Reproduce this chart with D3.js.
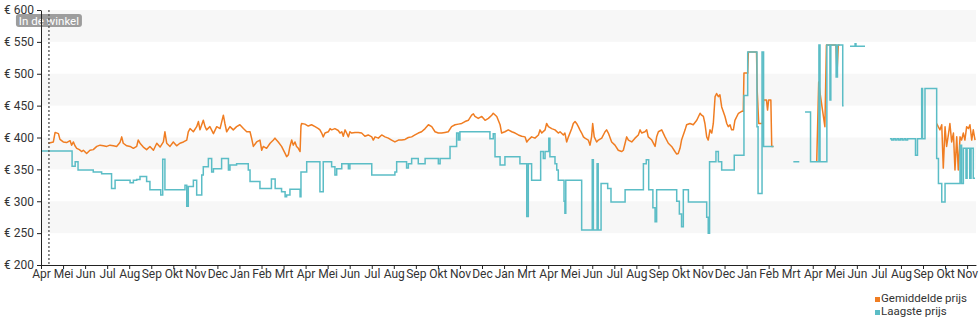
<!DOCTYPE html>
<html><head><meta charset="utf-8">
<script src="https://cdn.jsdelivr.net/npm/d3@7"></script>
<style>body{margin:0;background:#fff;} svg{display:block;font-family:Roboto, "Noto Sans", sans-serif;}</style>
</head><body><svg id="c" width="980" height="325"></svg>
<script>
const monthLabels = ["Apr","Mei","Jun","Jul","Aug","Sep","Okt","Nov","Dec","Jan","Feb","Mrt","Apr","Mei","Jun","Jul","Aug","Sep","Okt","Nov","Dec","Jan","Mrt","Apr","Mei","Jun","Jul","Aug","Sep","Okt","Nov","Dec","Jan","Feb","Mrt","Apr","Mei","Jun","Jul","Aug","Sep","Okt","Nov"];
const priceTicks = [200,250,300,350,400,450,500,550,600];
const bandRanges = [[550,600],[450,500],[350,400],[250,300]];
const seriesNames = ["Gemiddelde prijs","Laagste prijs"];
const storeMarker = {t:0.36, label:"In de winkel"};

// [month index, price]
const avgPrice = [
[0.33,391],[0.56,393],[0.64,408],[0.79,406],[0.86,397],[1.01,393],[1.16,392],[1.32,395],[1.39,388],[1.47,393],[1.54,387],[1.62,383],[1.74,381],[1.84,378],[1.92,380],[2.07,375],[2.22,380],[2.37,381],[2.53,386],[2.68,388],[2.83,387],[2.98,386],[3.13,388],[3.28,387],[3.43,386],[3.58,392],[3.66,401],[3.73,391],[3.89,387],[4.04,386],[4.19,383],[4.34,386],[4.41,396],[4.49,391],[4.64,385],[4.79,381],[4.94,386],[5.10,380],[5.25,391],[5.40,385],[5.55,393],[5.62,409],[5.70,391],[5.85,386],[6.00,393],[6.15,387],[6.30,391],[6.46,393],[6.61,396],[6.68,409],[6.76,414],[6.91,409],[7.06,417],[7.14,425],[7.21,412],[7.36,427],[7.44,417],[7.51,412],[7.66,417],[7.82,406],[7.97,417],[8.12,414],[8.27,435],[8.34,422],[8.42,409],[8.57,417],[8.72,412],[8.87,417],[9.02,420],[9.18,414],[9.33,409],[9.48,409],[9.55,399],[9.63,386],[9.78,393],[9.93,396],[10.01,380],[10.08,386],[10.23,383],[10.39,391],[10.54,396],
[10.61,399],[10.76,393],[10.91,386],[11.07,375],[11.14,370],[11.22,373],[11.29,386],[11.37,396],[11.44,388],[11.52,393],[11.59,386],[11.67,383],[11.75,378],[11.79,418],[11.82,422],[11.97,421],[12.12,418],[12.27,420],[12.43,417],[12.58,414],[12.65,412],[12.73,407],[12.80,401],[12.88,407],[13.03,409],[13.11,414],[13.18,412],[13.33,414],[13.48,411],[13.56,407],[13.64,409],[13.71,402],[13.79,412],[13.86,407],[13.94,401],[14.01,409],[14.09,407],[14.24,408],[14.39,408],[14.54,407],[14.69,402],[14.84,404],[15.00,401],[15.07,396],[15.15,401],[15.30,399],[15.45,404],[15.60,401],[15.75,399],[15.90,396],[16.05,393],[16.21,396],[16.36,396],[16.51,397],[16.66,400],[16.81,401],[16.96,404],[17.11,407],[17.26,409],[17.42,414],[17.57,420],[17.72,417],[17.87,409],[18.02,407],[18.17,407],[18.32,408],[18.47,409],[18.62,417],[18.78,420],[18.93,421],[19.08,422],[19.23,425],[19.38,427],[19.53,435],[19.61,437],[19.68,433],[19.83,430],[19.99,433],[20.14,427],[20.29,430],[20.44,435],[20.51,438],[20.67,433],[20.82,420],[20.89,407],[21.04,409],
[21.19,412],[21.35,409],[21.50,407],[21.65,404],[21.80,402],[21.95,401],[22.03,393],[22.10,396],[22.25,401],[22.40,399],[22.56,404],[22.63,412],[22.71,407],[22.86,412],[22.93,422],[23.01,417],[23.16,414],[23.31,412],[23.46,407],[23.54,409],[23.69,404],[23.76,407],[23.84,393],[23.92,401],[24.07,414],[24.14,422],[24.22,425],[24.29,422],[24.37,417],[24.44,412],[24.52,407],[24.60,401],[24.67,399],[24.82,396],[24.90,388],[24.97,401],[25.02,422],[25.09,401],[25.20,393],[25.28,396],[25.43,399],[25.58,409],[25.65,412],[25.73,407],[25.88,393],[26.03,388],[26.18,380],[26.33,378],[26.41,380],[26.49,391],[26.56,401],[26.64,396],[26.79,393],[26.94,399],[27.09,404],[27.17,412],[27.24,407],[27.39,409],[27.47,412],[27.54,401],[27.70,396],[27.85,386],[27.92,401],[28.00,409],[28.15,412],[28.30,401],[28.45,391],[28.60,386],[28.75,378],[28.83,374],[28.90,375],[28.98,383],[29.05,396],[29.21,412],[29.28,420],[29.43,422],[29.58,420],[29.74,427],[29.89,438],[29.96,435],[30.04,433],[30.11,422],[30.19,401],[30.26,396],[30.34,412],[30.42,407],[30.49,422],[30.57,464],[30.64,469],[30.72,464],[30.79,467],[30.87,448],[31.02,433],[31.10,422],[31.17,417],[31.25,420],[31.32,412],[31.40,412],[31.47,427],[31.63,438],[31.78,441],[31.85,441],
[31.88,501],[32.05,501],[32.08,534],[32.45,534],[32.48,474],[32.55,422],[32.72,422],[32.77,459],[32.90,459],[32.95,443],[33.00,459],[33.10,459],[33.14,386],[33.22,386],[33.25,null],
[35.18,362],[35.27,487],[35.33,470],[35.55,417],[35.62,545],[36.05,545],[36.10,501],[36.16,545],[36.22,545],[36.25,null],
[40.62,422],[40.69,417],[40.77,412],[40.85,420],[40.92,352],[41.00,417],[41.07,386],[41.15,404],[41.22,422],[41.30,393],[41.38,407],[41.45,349],[41.53,401],[41.60,349],[41.68,401],[41.75,396],[41.83,407],[41.90,396],[41.98,417],[42.06,414],[42.13,420],[42.21,396],[42.28,412],[42.36,396]
];

const lowPrice = [
[0,379],[1.41,355],[1.55,362],[1.68,349],[2.37,346],[2.75,343],[3.20,320],[3.36,333],[4.04,329],[4.19,333],[4.34,334],[4.49,339],[4.79,331],[4.94,318],[5.43,310],[5.52,366],[5.62,318],[6.53,325],[6.61,292],[6.68,323],[6.91,333],[7.06,310],[7.29,341],[7.36,354],[7.59,367],[7.74,346],[7.82,351],[8.19,367],[8.50,349],[8.57,357],[8.87,359],[9.40,349],[9.48,331],[9.93,320],[10.45,335],[10.62,320],[10.91,315],[11.07,307],[11.14,310],[11.29,319],[11.75,307],[11.79,346],[12.05,362],[12.65,315],[12.80,362],[13.18,354],[13.33,341],[13.41,351],[13.64,359],[13.94,351],[14.01,359],[15.00,341],[16.05,346],[16.13,362],[16.58,352],[16.66,359],[16.81,367],[17.11,359],[17.42,367],[18.02,359],[18.10,367],[18.55,386],[18.85,407],[18.93,396],[19.00,409],[20.36,398],[20.51,406],[20.59,370],[20.82,357],[21.04,370],[21.72,359],[22.03,276],[22.10,359],[22.25,333],[22.66,378],[22.78,367],[22.86,378],[23.03,399],[23.08,370],[23.31,359],[23.39,349],[23.46,333],[23.72,300],[23.76,281],[23.80,333],[24.52,255],[25.00,365],[25.05,255],[25.22,359],[25.27,255],[25.40,328],[25.70,320],[25.85,299],[26.49,318],[27.32,359],[27.45,365],[27.56,318],[27.75,290],[27.85,268],[27.92,318],[28.83,300],[28.95,280],[29.05,260],[29.13,318],[29.36,299],[30.19,275],[30.26,250],[30.32,362],[30.61,378],[30.72,362],[30.87,349],[31.44,372],[31.88,466],[32.05,534],[32.47,417],[32.52,312],[32.70,534],[32.77,386],[33.22,386],[33.25,null],
[34.12,362],[34.39,362],[34.42,null],
[34.65,440],[34.90,362],[35.28,545],[35.33,362],[35.64,545],[35.78,459],[35.82,545],[36.06,495],[36.12,545],[36.36,450],[36.40,450],[36.42,null],
[36.69,543],[36.88,543],[36.92,547],[36.96,543],[37.37,543],[37.40,null],
[38.50,398],[38.58,396],[38.66,398],[38.74,396],[38.82,398],[38.90,396],[38.98,398],[39.06,396],[39.14,398],[39.22,396],[39.30,398],[39.66,372],[39.75,398],[39.94,477],[39.98,398],[40.09,477],[40.62,367],[40.70,328],[40.85,299],[41.00,328],[41.68,388],[41.75,328],[41.83,383],[41.95,336],[42.00,383],[42.12,336],[42.18,383],[42.28,336],[42.36,336]
];

const colors = ["#f07d22","#5bbdc6"];

const svg = d3.select("#c");
const x = d3.scaleLinear().domain([0, 42.4]).range([41, 41 + 42.4 * 22.05]);
const y = d3.scaleLinear().domain([200, 600]).range([265, 10]);

// bands
svg.append("g").selectAll("rect").data(bandRanges).join("rect")
  .attr("x", x(0)).attr("width", x(42.4) - x(0))
  .attr("y", d => y(d[1])).attr("height", d => y(d[0]) - y(d[1]))
  .attr("fill", "#f7f7f7");

// store label
const lx = x(storeMarker.t);
const lbl = svg.append("g");
lbl.append("rect").attr("x", lx - 33).attr("y", 14).attr("width", 66).attr("height", 13).attr("rx", 3)
  .attr("fill", "#9d9d9d");
lbl.append("text").attr("x", lx).attr("y", 24.5).attr("text-anchor", "middle")
  .attr("fill", "#fff").attr("font-size", 11.5).text(storeMarker.label);

// lines
const avgLine = d3.line().defined(d => d[1] != null).x(d => x(d[0])).y(d => y(d[1]));
const lowLine = d3.line().defined(d => d[1] != null).x(d => x(d[0])).y(d => y(d[1])).curve(d3.curveStepAfter);
svg.append("path").datum(avgPrice).attr("d", avgLine).attr("fill", "none")
  .attr("stroke", colors[0]).attr("stroke-width", 1.5).attr("stroke-linejoin", "round");
svg.append("path").datum(lowPrice).attr("d", lowLine).attr("fill", "none")
  .attr("stroke", colors[1]).attr("stroke-width", 1.5);

// dotted marker
svg.append("line").attr("x1", lx).attr("x2", lx).attr("y1", 10).attr("y2", 265)
  .attr("stroke", "#555").attr("stroke-width", 1.3).attr("stroke-dasharray", "2,2");

// axes
const yAxis = svg.append("g").attr("transform", `translate(${x(0)},0)`)
  .call(d3.axisLeft(y).tickValues(priceTicks).tickFormat(d => "€ " + d).tickSize(4).tickSizeOuter(0));
yAxis.selectAll("text").attr("font-size", 12).attr("fill", "#333").attr("font-family", "Roboto");
yAxis.selectAll("line,path").attr("stroke", "#222");

const xAxis = svg.append("g").attr("transform", `translate(0,${y(200)})`)
  .call(d3.axisBottom(x).tickValues(d3.range(monthLabels.length)).tickFormat(i => monthLabels[i]).tickSize(4).tickPadding(0).tickSizeOuter(0));
xAxis.selectAll("text").attr("font-size", 12).attr("fill", "#333").attr("font-family", "Roboto");
xAxis.selectAll("line,path").attr("stroke", "#222");

// legend
const leg = svg.append("g");
seriesNames.forEach((n, i) => {
  leg.append("rect").attr("x", 875).attr("y", 297 + i * 13).attr("width", 5).attr("height", 5).attr("fill", colors[i]);
  leg.append("text").attr("x", 881).attr("y", 302 + i * 13).attr("font-size", 11.5).attr("fill", "#333").text(n);
});
</script></body></html>
